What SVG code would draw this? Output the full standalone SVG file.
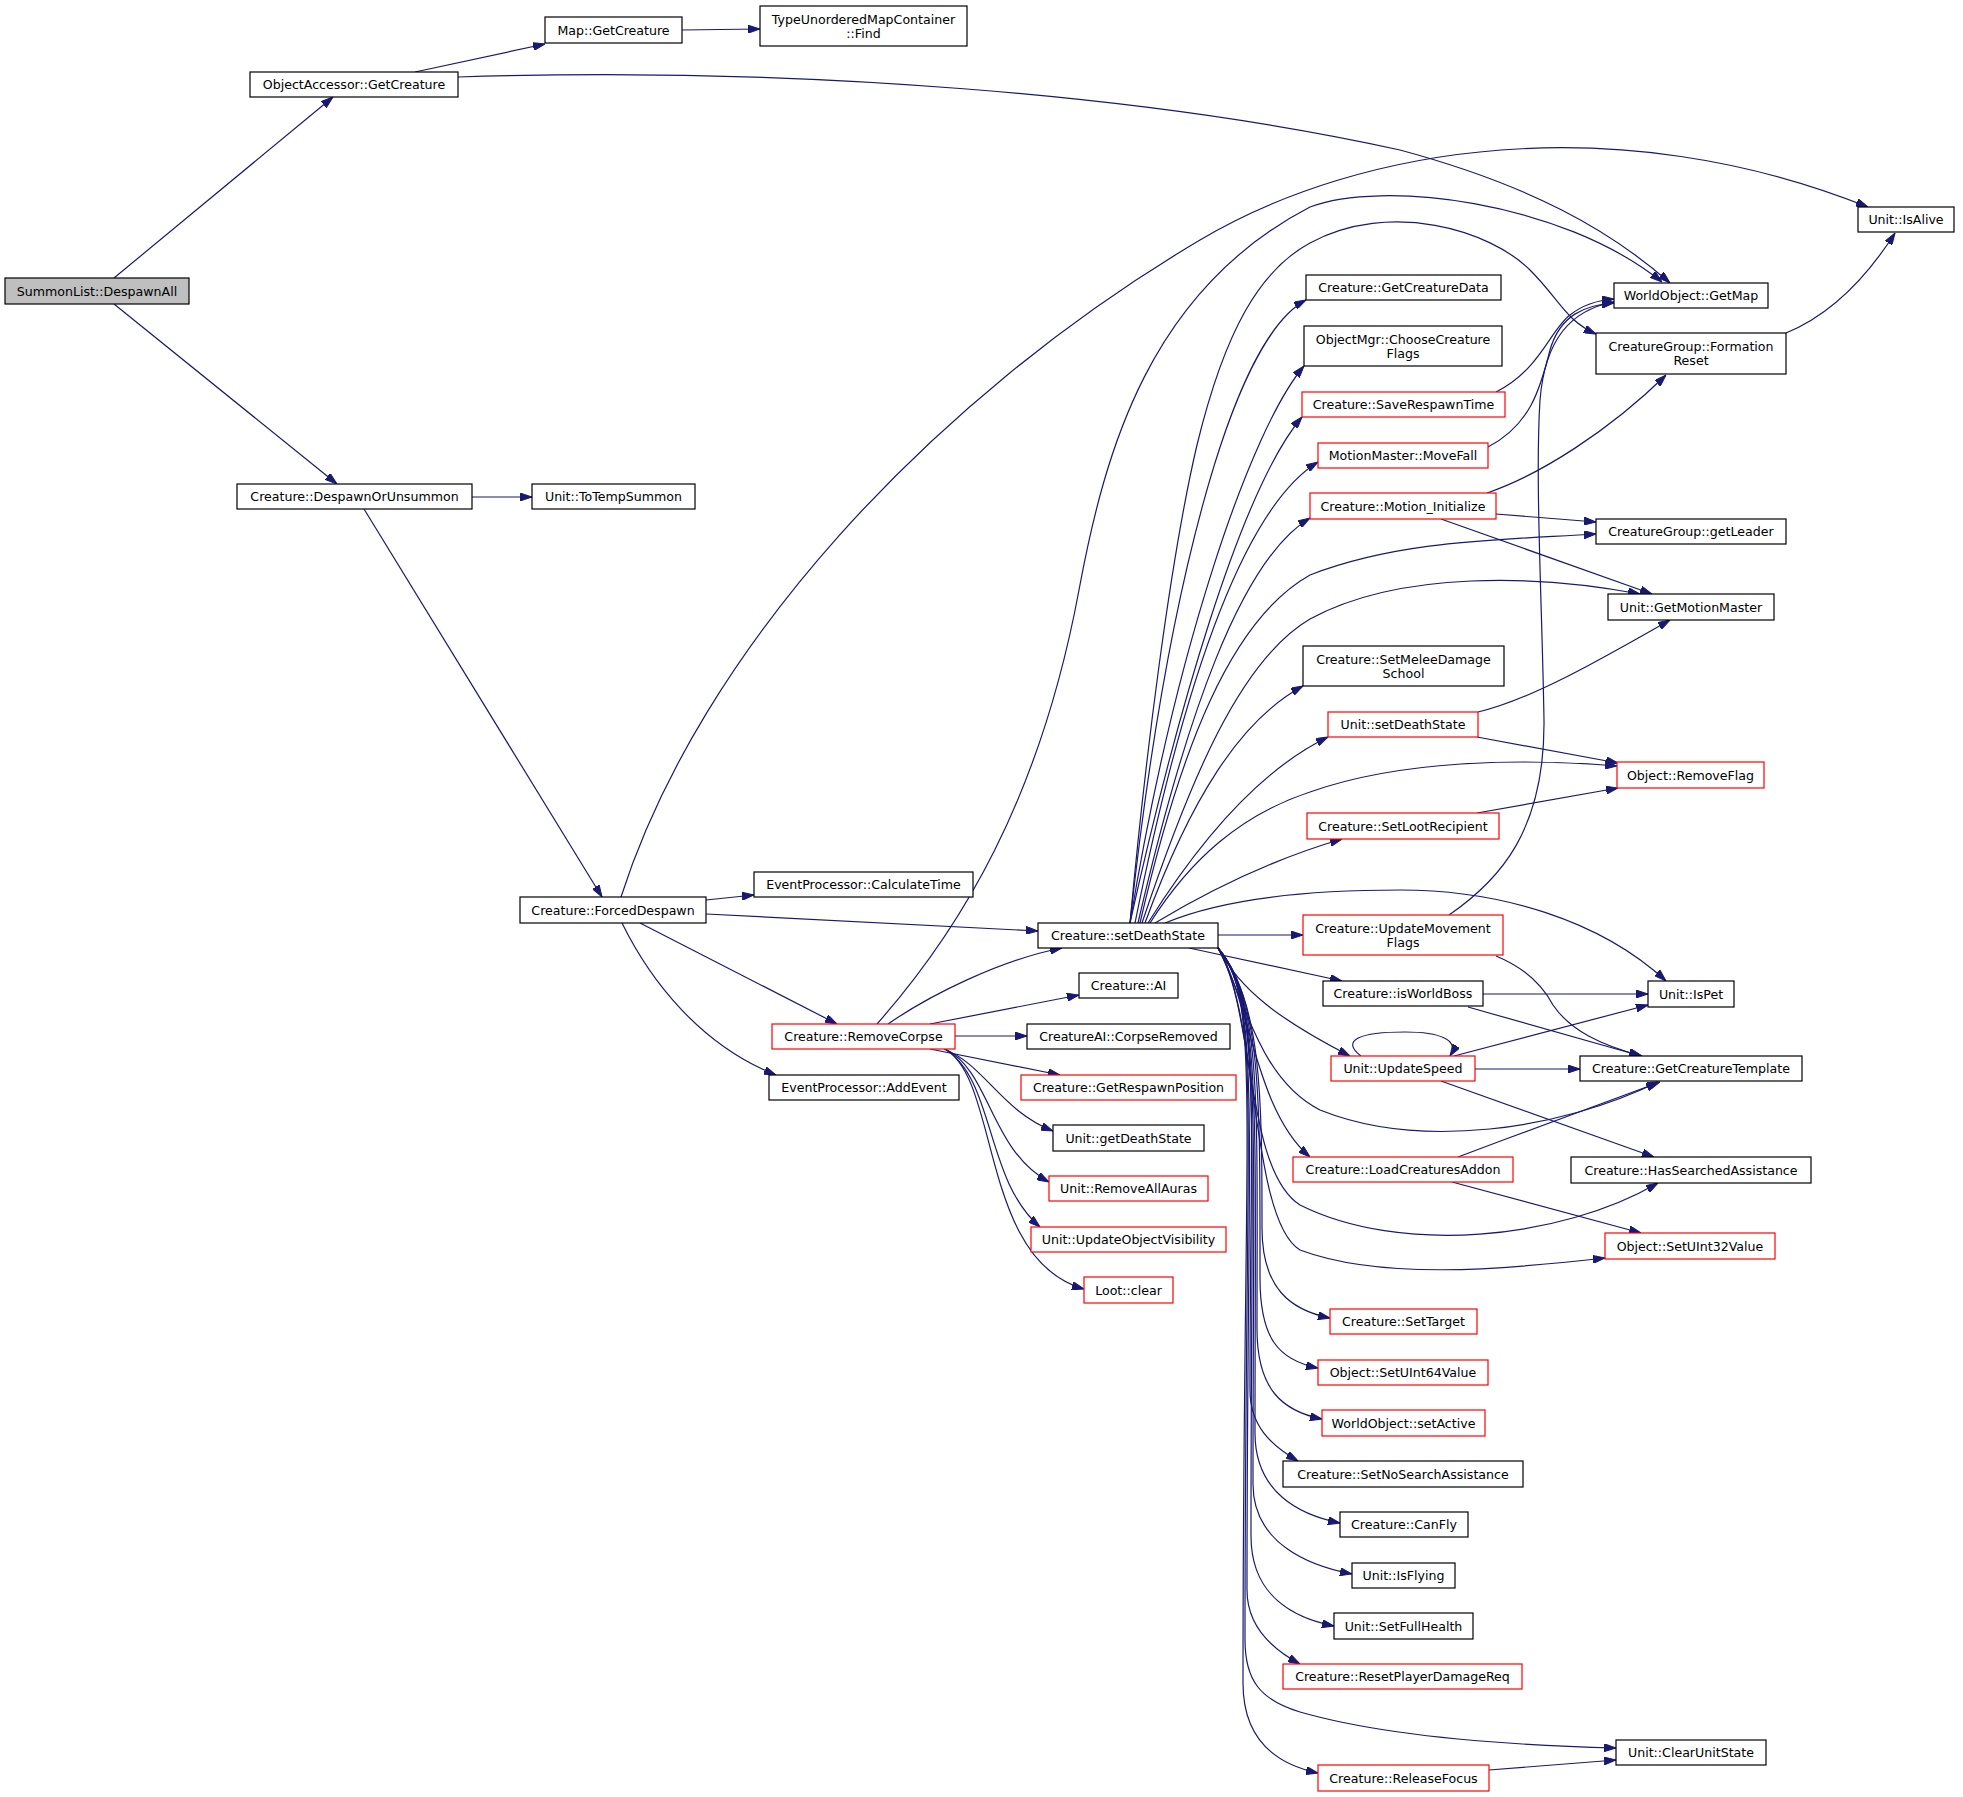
<svg xmlns="http://www.w3.org/2000/svg" width="1963" height="1797" viewBox="0 0 1963 1797">
<style>
.n rect{fill:#fff;stroke:#000;stroke-width:1.2}
.n.r rect{stroke:#ff0000}
.n.m rect{fill:#bfbfbf}
text{font-family:"DejaVu Sans","Liberation Sans",sans-serif;font-size:12.6px;text-anchor:middle;fill:#000}
#edges path{fill:none;stroke:#191970;stroke-width:1.2;marker-end:url(#a)}
</style>
<defs>
<marker id="a" viewBox="0 0 12 8" refX="12" refY="4" markerWidth="12" markerHeight="8" markerUnits="userSpaceOnUse" orient="auto">
<path d="M0,0 L12,4 L0,8 z" fill="#191970" stroke="#191970" stroke-width="1"/>
</marker>
</defs>
<rect x="0" y="0" width="1963" height="1797" fill="#fff"/>
<g id="edges">
<path d="M114,278 L333,97"/>
<path d="M114,304 L337,484"/>
<path d="M415,72 L545,44"/>
<path d="M682,30 L760,29"/>
<path d="M458,77 C800,66 1150,95 1400,150 C1530,185 1610,230 1670,283"/>
<path d="M621,897 C700,650 930,400 1200,240 C1362,144 1618,107 1868,207"/>
<path d="M877,1024 C960,930 1040,800 1079,590 C1105,450 1150,290 1310,207 C1380,180 1560,200 1662,282"/>
<path d="M1130,923 C1145,760 1170,560 1197,445 C1225,330 1260,270 1310,243 C1390,200 1490,230 1530,270 C1560,300 1565,320 1596,334"/>
<path d="M1786,333 C1830,315 1865,280 1895,233"/>
<path d="M706,900 L754,895"/>
<path d="M706,914 L1038,931"/>
<path d="M640,923 L837,1024"/>
<path d="M622,923 C650,980 700,1045 776,1075"/>
<path d="M472,497 L532,497"/>
<path d="M364,509 L602,897"/>
<path d="M888,1024 C930,995 1000,960 1062,948"/>
<path d="M930,1024 L1079,995"/>
<path d="M955,1036 L1027,1036"/>
<path d="M930,1049 L1060,1075"/>
<path d="M944,1049 C985,1065 1000,1110 1053,1131"/>
<path d="M945,1049 C990,1070 990,1150 1049,1182"/>
<path d="M945,1049 C995,1080 985,1180 1040,1227"/>
<path d="M945,1049 C1000,1080 980,1260 1084,1289"/>
<path d="M1130,923 C1165,600 1230,340 1306,300"/>
<path d="M1130,923 C1175,650 1250,430 1304,366"/>
<path d="M1130,923 C1175,720 1240,490 1302,417"/>
<path d="M1135,923 C1180,700 1240,510 1318,462"/>
<path d="M1138,923 C1185,720 1240,560 1310,518"/>
<path d="M1140,923 C1180,750 1230,620 1310,575 C1400,540 1500,540 1596,534"/>
<path d="M1142,923 C1190,780 1240,660 1310,619 C1400,570 1540,575 1640,594"/>
<path d="M1145,923 C1190,800 1240,720 1303,686"/>
<path d="M1148,923 C1200,840 1260,770 1328,737"/>
<path d="M1150,923 C1190,860 1240,815 1310,792 C1400,760 1520,758 1617,766"/>
<path d="M1155,923 C1210,890 1270,860 1342,839"/>
<path d="M1165,923 C1220,900 1300,890 1400,890 C1500,890 1600,920 1666,981"/>
<path d="M1218,935 L1303,935"/>
<path d="M1189,948 L1342,981"/>
<path d="M1218,948 C1240,990 1280,1020 1350,1056"/>
<path d="M1218,948 C1245,1000 1260,1080 1320,1110 C1420,1150 1560,1130 1658,1082"/>
<path d="M1218,948 C1250,1000 1255,1110 1310,1157"/>
<path d="M1218,948 C1255,1010 1245,1170 1300,1205 C1400,1255 1560,1240 1658,1183"/>
<path d="M1218,948 C1258,1010 1250,1220 1300,1250 C1380,1280 1500,1270 1605,1258"/>
<path d="M1218,948 C1262,1000 1262,1100 1262,1228 C1262,1288 1290,1310 1330,1318"/>
<path d="M1218,948 C1262,1000 1260,1100 1260,1278 C1260,1338 1278,1360 1318,1368"/>
<path d="M1218,948 C1262,1000 1257,1100 1257,1329 C1257,1389 1282,1411 1322,1419"/>
<path d="M1218,948 C1262,1000 1250,1100 1250,1390 C1250,1425 1270,1445 1298,1461"/>
<path d="M1218,948 C1262,1000 1255,1100 1255,1433 C1255,1493 1300,1515 1340,1523"/>
<path d="M1218,948 C1262,1000 1253,1100 1253,1484 C1253,1544 1310,1566 1352,1574"/>
<path d="M1218,948 C1262,1000 1251,1100 1251,1536 C1251,1596 1294,1618 1334,1626"/>
<path d="M1218,948 C1262,1000 1247,1100 1247,1590 C1247,1625 1270,1648 1300,1664"/>
<path d="M1218,948 C1262,1000 1245,1100 1245,1640 C1245,1680 1260,1700 1300,1712 C1380,1735 1500,1745 1616,1748"/>
<path d="M1218,948 C1262,1000 1243,1100 1243,1683 C1243,1743 1280,1765 1318,1773"/>
<path d="M1449,915 C1500,880 1545,830 1544,720 C1542,600 1535,480 1540,400 C1545,340 1570,310 1614,302"/>
<path d="M1496,392 C1540,370 1550,330 1570,315 C1585,303 1600,300 1614,299"/>
<path d="M1488,447 C1530,425 1540,390 1550,350 C1560,315 1585,305 1614,303"/>
<path d="M1487,493 C1540,475 1610,430 1666,375"/>
<path d="M1496,514 L1596,522"/>
<path d="M1441,519 L1652,594"/>
<path d="M1478,712 C1530,700 1600,660 1670,620"/>
<path d="M1477,737 L1618,763"/>
<path d="M1477,813 L1618,788"/>
<path d="M1496,956 C1530,970 1545,990 1553,1005 C1570,1030 1600,1045 1642,1056"/>
<path d="M1483,994 L1648,994"/>
<path d="M1468,1007 L1641,1056"/>
<path d="M1361,1056 C1340,1040 1360,1032 1405,1032 C1440,1032 1460,1040 1450,1056"/>
<path d="M1454,1056 L1648,1005"/>
<path d="M1475,1069 L1580,1069"/>
<path d="M1441,1081 L1654,1157"/>
<path d="M1458,1157 C1530,1130 1610,1100 1660,1082"/>
<path d="M1452,1182 L1641,1233"/>
<path d="M1489,1770 L1616,1760"/>
</g>
<g id="n_summonlist_despawnall" class="n m"><rect x="5" y="278" width="184" height="26"/><text x="97" y="295.5">SummonList::DespawnAll</text></g>
<g id="n_objectaccessor_getcreature" class="n"><rect x="250" y="72" width="208" height="25"/><text x="354" y="89">ObjectAccessor::GetCreature</text></g>
<g id="n_map_getcreature" class="n"><rect x="545" y="17" width="137" height="26"/><text x="613.5" y="34.5">Map::GetCreature</text></g>
<g id="n_typeunorderedmapcontainer_find" class="n"><rect x="760" y="6" width="207" height="40"/><text x="863.5" y="23.5">TypeUnorderedMapContainer</text><text x="863.5" y="38">::Find</text></g>
<g id="n_despawnorunsummon" class="n"><rect x="237" y="484" width="235" height="25"/><text x="354.5" y="501">Creature::DespawnOrUnsummon</text></g>
<g id="n_totempsummon" class="n"><rect x="532" y="484" width="163" height="25"/><text x="613.5" y="501">Unit::ToTempSummon</text></g>
<g id="n_forceddespawn" class="n"><rect x="520" y="897" width="186" height="26"/><text x="613" y="914.5">Creature::ForcedDespawn</text></g>
<g id="n_calculatetime" class="n"><rect x="754" y="872" width="219" height="25"/><text x="863.5" y="889">EventProcessor::CalculateTime</text></g>
<g id="n_creature_setdeathstate" class="n"><rect x="1038" y="923" width="180" height="25"/><text x="1128" y="940">Creature::setDeathState</text></g>
<g id="n_removecorpse" class="n r"><rect x="772" y="1024" width="183" height="25"/><text x="863.5" y="1041">Creature::RemoveCorpse</text></g>
<g id="n_addevent" class="n"><rect x="769" y="1075" width="190" height="25"/><text x="864" y="1092">EventProcessor::AddEvent</text></g>
<g id="n_creature_ai" class="n"><rect x="1079" y="973" width="99" height="25"/><text x="1128.5" y="990">Creature::AI</text></g>
<g id="n_corpseremoved" class="n"><rect x="1027" y="1024" width="203" height="25"/><text x="1128.5" y="1041">CreatureAI::CorpseRemoved</text></g>
<g id="n_getrespawnposition" class="n r"><rect x="1021" y="1075" width="215" height="25"/><text x="1128.5" y="1092">Creature::GetRespawnPosition</text></g>
<g id="n_getdeathstate" class="n"><rect x="1053" y="1125" width="151" height="26"/><text x="1128.5" y="1142.5">Unit::getDeathState</text></g>
<g id="n_removeallauras" class="n r"><rect x="1049" y="1176" width="159" height="25"/><text x="1128.5" y="1193">Unit::RemoveAllAuras</text></g>
<g id="n_updateobjectvisibility" class="n r"><rect x="1031" y="1227" width="195" height="25"/><text x="1128.5" y="1244">Unit::UpdateObjectVisibility</text></g>
<g id="n_loot_clear" class="n r"><rect x="1084" y="1277" width="89" height="26"/><text x="1128.5" y="1294.5">Loot::clear</text></g>
<g id="n_getcreaturedata" class="n"><rect x="1306" y="275" width="195" height="25"/><text x="1403.5" y="292">Creature::GetCreatureData</text></g>
<g id="n_choosecreatureflags" class="n"><rect x="1304" y="326" width="198" height="40"/><text x="1403" y="343.5">ObjectMgr::ChooseCreature</text><text x="1403" y="358">Flags</text></g>
<g id="n_saverespawntime" class="n r"><rect x="1302" y="392" width="203" height="25"/><text x="1403.5" y="409">Creature::SaveRespawnTime</text></g>
<g id="n_movefall" class="n r"><rect x="1318" y="443" width="170" height="25"/><text x="1403" y="460">MotionMaster::MoveFall</text></g>
<g id="n_motion_initialize" class="n r"><rect x="1310" y="493" width="186" height="26"/><text x="1403" y="510.5">Creature::Motion_Initialize</text></g>
<g id="n_setmeleedamageschool" class="n"><rect x="1303" y="646" width="201" height="40"/><text x="1403.5" y="663.5">Creature::SetMeleeDamage</text><text x="1403.5" y="678">School</text></g>
<g id="n_unit_setdeathstate" class="n r"><rect x="1328" y="712" width="150" height="25"/><text x="1403" y="729">Unit::setDeathState</text></g>
<g id="n_setlootrecipient" class="n r"><rect x="1307" y="813" width="192" height="26"/><text x="1403" y="830.5">Creature::SetLootRecipient</text></g>
<g id="n_updatemovementflags" class="n r"><rect x="1303" y="915" width="200" height="40"/><text x="1403" y="932.5">Creature::UpdateMovement</text><text x="1403" y="947">Flags</text></g>
<g id="n_isworldboss" class="n"><rect x="1323" y="981" width="160" height="25"/><text x="1403" y="998">Creature::isWorldBoss</text></g>
<g id="n_updatespeed" class="n r"><rect x="1331" y="1056" width="144" height="25"/><text x="1403" y="1073">Unit::UpdateSpeed</text></g>
<g id="n_loadcreaturesaddon" class="n r"><rect x="1293" y="1157" width="220" height="25"/><text x="1403" y="1174">Creature::LoadCreaturesAddon</text></g>
<g id="n_settarget" class="n r"><rect x="1330" y="1309" width="147" height="25"/><text x="1403.5" y="1326">Creature::SetTarget</text></g>
<g id="n_setuint64value" class="n r"><rect x="1318" y="1360" width="170" height="25"/><text x="1403" y="1377">Object::SetUInt64Value</text></g>
<g id="n_setactive" class="n r"><rect x="1322" y="1410" width="163" height="26"/><text x="1403.5" y="1427.5">WorldObject::setActive</text></g>
<g id="n_setnosearchassistance" class="n"><rect x="1283" y="1461" width="240" height="26"/><text x="1403" y="1478.5">Creature::SetNoSearchAssistance</text></g>
<g id="n_canfly" class="n"><rect x="1340" y="1512" width="128" height="25"/><text x="1404" y="1529">Creature::CanFly</text></g>
<g id="n_isflying" class="n"><rect x="1352" y="1563" width="103" height="25"/><text x="1403.5" y="1580">Unit::IsFlying</text></g>
<g id="n_setfullhealth" class="n"><rect x="1334" y="1613" width="139" height="26"/><text x="1403.5" y="1630.5">Unit::SetFullHealth</text></g>
<g id="n_resetplayerdamagereq" class="n r"><rect x="1283" y="1664" width="239" height="25"/><text x="1402.5" y="1681">Creature::ResetPlayerDamageReq</text></g>
<g id="n_releasefocus" class="n r"><rect x="1318" y="1765" width="171" height="26"/><text x="1403.5" y="1782.5">Creature::ReleaseFocus</text></g>
<g id="n_getmap" class="n"><rect x="1614" y="283" width="154" height="25"/><text x="1691" y="300">WorldObject::GetMap</text></g>
<g id="n_formationreset" class="n"><rect x="1596" y="333" width="190" height="41"/><text x="1691" y="350.5">CreatureGroup::Formation</text><text x="1691" y="365">Reset</text></g>
<g id="n_isalive" class="n"><rect x="1858" y="207" width="96" height="25"/><text x="1906" y="224">Unit::IsAlive</text></g>
<g id="n_getleader" class="n"><rect x="1596" y="519" width="190" height="25"/><text x="1691" y="536">CreatureGroup::getLeader</text></g>
<g id="n_getmotionmaster" class="n"><rect x="1608" y="594" width="166" height="26"/><text x="1691" y="611.5">Unit::GetMotionMaster</text></g>
<g id="n_removeflag" class="n r"><rect x="1617" y="762" width="147" height="26"/><text x="1690.5" y="779.5">Object::RemoveFlag</text></g>
<g id="n_ispet" class="n"><rect x="1648" y="981" width="86" height="26"/><text x="1691" y="998.5">Unit::IsPet</text></g>
<g id="n_getcreaturetemplate" class="n"><rect x="1580" y="1056" width="222" height="25"/><text x="1691" y="1073">Creature::GetCreatureTemplate</text></g>
<g id="n_hassearchedassistance" class="n"><rect x="1571" y="1157" width="240" height="26"/><text x="1691" y="1174.5">Creature::HasSearchedAssistance</text></g>
<g id="n_setuint32value" class="n r"><rect x="1605" y="1233" width="170" height="26"/><text x="1690" y="1250.5">Object::SetUInt32Value</text></g>
<g id="n_clearunitstate" class="n"><rect x="1616" y="1740" width="150" height="25"/><text x="1691" y="1757">Unit::ClearUnitState</text></g>
</svg>
